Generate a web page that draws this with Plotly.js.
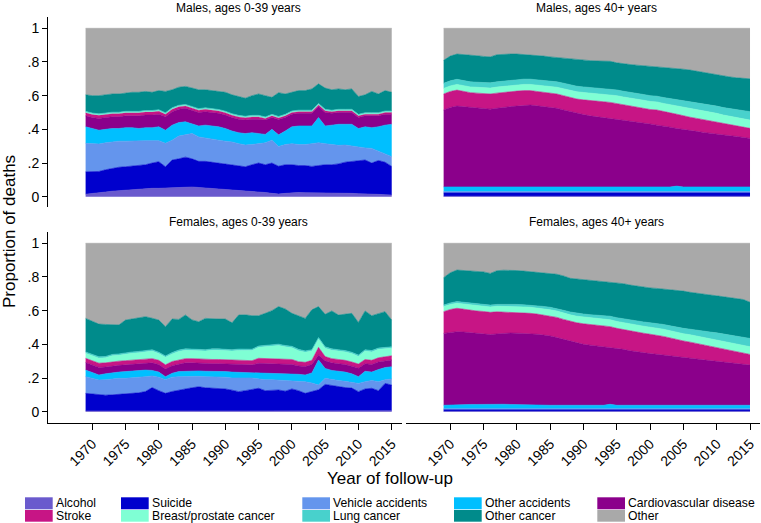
<!DOCTYPE html>
<html>
<head>
<meta charset="utf-8">
<script src="https://cdn.plot.ly/plotly-3.0.1.min.js"></script>
<style>html,body{margin:0;padding:0;background:#fff;}#chart{width:761px;height:523px;}</style>
</head>
<body>
<div id="chart"></div>
<script>
// ---------------- DATA ----------------
const years = [1969,1970,1971,1972,1973,1974,1975,1976,1977,1978,1979,1980,1981,1982,1983,1984,1985,1986,1987,1988,1989,1990,1991,1992,1993,1994,1995,1996,1997,1998,1999,2000,2001,2002,2003,2004,2005,2006,2007,2008,2009,2010,2011,2012,2013,2014,2015];
const causes = ['Alcohol','Suicide','Vehicle accidents','Other accidents','Cardiovascular disease','Stroke','Breast/prostate cancer','Lung cancer','Other cancer','Other'];
const panelTitles = ['Males, ages 0-39 years','Males, ages 40+ years','Females, ages 0-39 years','Females, ages 40+ years'];
const yTickVals = [0,0.2,0.4,0.6,0.8,1];
const yTickText = ['0','.2','.4','.6','.8','1'];
const xTickVals = [1970,1975,1980,1985,1990,1995,2000,2005,2010,2015];

// Males, ages 0-39
const m0_alcohol = [.015,.018,.022,.028,.033,.036,.04,.042,.045,.048,.05,.05,.052,.055,.058,.06,.058,.055,.052,.05,.048,.045,.042,.04,.035,.033,.03,.025,.02,.016,.02,.024,.025,.024,.024,.022,.022,.02,.02,.02,.02,.018,.018,.016,.014,.012,.01];
const m0_suicide = [.133,.13,.128,.132,.135,.139,.138,.14,.14,.142,.15,.158,.126,.163,.167,.175,.167,.155,.158,.155,.152,.15,.148,.145,.143,.157,.17,.165,.18,.164,.17,.166,.16,.161,.156,.163,.168,.17,.175,.185,.19,.197,.2,.184,.201,.193,.17];
const m0_vehicle = [.169,.167,.163,.16,.159,.155,.152,.15,.148,.143,.133,.125,.139,.117,.135,.135,.151,.145,.14,.14,.136,.135,.135,.13,.129,.12,.115,.13,.136,.117,.12,.125,.125,.125,.135,.135,.125,.12,.11,.102,.09,.08,.072,.087,.055,.05,.058];
const m0_otherAcc = [.098,.09,.082,.08,.078,.075,.08,.078,.072,.077,.077,.082,.078,.09,.08,.075,.055,.065,.075,.075,.079,.075,.065,.065,.068,.07,.06,.05,.064,.068,.08,.10,.11,.11,.105,.15,.105,.115,.125,.123,.13,.11,.125,.123,.145,.17,.192];
const m0_cvd = [.065,.065,.07,.07,.07,.07,.07,.07,.075,.075,.075,.075,.08,.08,.08,.08,.08,.08,.08,.08,.08,.08,.08,.08,.08,.08,.085,.085,.07,.09,.08,.075,.075,.075,.075,.065,.08,.07,.07,.07,.07,.065,.065,.07,.065,.065,.06];
const m0_stroke = [.018,.018,.018,.018,.018,.018,.018,.018,.018,.018,.018,.018,.014,.014,.014,.014,.014,.014,.014,.014,.014,.014,.014,.014,.014,.014,.014,.01,.01,.01,.01,.01,.01,.01,.01,.01,.01,.01,.01,.01,.01,.01,.01,.01,.01,.01,.01];
const m0_breastProstate = [.004,.004,.004,.004,.004,.004,.004,.004,.004,.004,.004,.004,.004,.004,.004,.004,.004,.004,.004,.004,.004,.004,.004,.004,.004,.004,.004,.004,.004,.004,.004,.004,.004,.004,.004,.004,.004,.004,.004,.004,.004,.004,.004,.004,.004,.004,.004];
const m0_lung = [.005,.005,.005,.005,.005,.005,.005,.005,.005,.005,.005,.005,.005,.005,.005,.005,.005,.005,.005,.005,.005,.005,.005,.005,.005,.005,.005,.005,.005,.005,.005,.005,.005,.005,.005,.005,.005,.005,.005,.005,.005,.005,.005,.005,.005,.005,.005];
const m0_otherCancer = [.098,.103,.108,.108,.108,.108,.108,.113,.113,.113,.108,.113,.127,.107,.107,.107,.112,.112,.107,.107,.107,.112,.112,.112,.107,.117,.127,.126,.101,.14,.121,.111,.116,.116,.126,.116,.126,.121,.121,.116,.121,.106,.106,.126,.111,.121,.111];
const m0_other = [.395,.40,.40,.395,.39,.39,.385,.38,.38,.375,.38,.37,.375,.365,.35,.345,.355,.365,.365,.37,.375,.38,.395,.405,.415,.40,.39,.40,.41,.38,.39,.38,.37,.37,.36,.33,.355,.365,.36,.365,.36,.405,.395,.375,.39,.37,.38];

// Males, ages 40+
const m40_alcohol = [.003,.003,.003,.003,.003,.003,.003,.003,.003,.003,.003,.003,.003,.003,.003,.003,.003,.003,.003,.003,.003,.003,.003,.003,.003,.003,.003,.003,.003,.003,.003,.003,.003,.003,.003,.003,.003,.003,.003,.003,.003,.003,.003,.003,.003,.003,.003];
const m40_suicide = [.02,.02,.02,.02,.02,.02,.02,.02,.02,.02,.02,.02,.02,.02,.02,.02,.02,.02,.02,.02,.02,.02,.02,.02,.02,.02,.02,.02,.02,.02,.02,.02,.02,.02,.02,.02,.02,.02,.02,.02,.02,.02,.02,.02,.02,.02,.02];
const m40_vehicle = [.008,.008,.008,.008,.008,.008,.008,.008,.008,.008,.008,.008,.008,.008,.008,.008,.008,.008,.008,.008,.008,.008,.008,.008,.008,.008,.008,.008,.008,.008,.008,.008,.008,.008,.008,.008,.008,.008,.008,.008,.008,.008,.008,.008,.008,.008,.008];
const m40_otherAcc = [.027,.027,.027,.027,.027,.027,.027,.027,.027,.027,.027,.027,.027,.027,.027,.027,.027,.027,.027,.027,.027,.027,.027,.027,.027,.027,.027,.027,.027,.027,.027,.027,.027,.027,.027,.032,.027,.027,.027,.027,.027,.027,.027,.027,.027,.027,.027];
const m40_cvd = [.457,.472,.48,.477,.47,.467,.464,.462,.467,.474,.477,.48,.484,.486,.482,.477,.47,.467,.457,.447,.437,.43,.422,.417,.412,.407,.402,.397,.392,.387,.382,.374,.367,.362,.355,.342,.34,.335,.33,.324,.318,.312,.308,.304,.30,.294,.288];
const m40_stroke = [.095,.095,.095,.09,.09,.09,.09,.09,.09,.088,.089,.089,.088,.086,.085,.085,.087,.085,.085,.085,.085,.087,.09,.091,.094,.095,.093,.09,.09,.087,.085,.086,.09,.085,.085,.085,.082,.079,.077,.076,.076,.075,.069,.066,.062,.061,.06];
const m40_breastProstate = [.033,.033,.034,.034,.034,.035,.035,.035,.036,.036,.036,.037,.037,.037,.038,.039,.04,.04,.041,.042,.043,.044,.045,.045,.046,.046,.047,.047,.047,.048,.048,.048,.048,.049,.049,.049,.05,.05,.05,.05,.05,.05,.05,.05,.05,.049,.049];
const m40_lung = [.03,.03,.03,.03,.03,.03,.03,.031,.031,.031,.031,.031,.031,.031,.032,.032,.032,.032,.033,.033,.033,.033,.033,.033,.033,.033,.034,.034,.034,.034,.034,.034,.034,.035,.036,.037,.038,.039,.04,.041,.042,.043,.044,.046,.047,.048,.05];
const m40_otherCancer = [.137,.147,.15,.156,.158,.157,.156,.154,.161,.159,.156,.152,.147,.145,.145,.144,.143,.144,.148,.152,.158,.158,.16,.162,.16,.165,.161,.162,.164,.167,.171,.175,.173,.179,.182,.186,.189,.191,.19,.189,.186,.184,.189,.187,.189,.193,.195];
const m40_other = [.19,.165,.153,.155,.16,.163,.167,.17,.157,.154,.153,.153,.155,.157,.16,.165,.17,.174,.178,.183,.186,.19,.192,.194,.197,.196,.205,.212,.215,.219,.222,.225,.23,.232,.235,.238,.243,.248,.255,.262,.27,.278,.282,.289,.294,.297,.30];

// Females, ages 0-39
const f0_alcohol = [.004,.004,.004,.004,.004,.004,.004,.008,.008,.008,.008,.008,.008,.008,.008,.008,.008,.006,.006,.006,.006,.006,.006,.006,.006,.006,.006,.005,.005,.005,.005,.005,.005,.005,.005,.005,.005,.005,.005,.005,.005,.005,.005,.005,.005,.005,.005];
const f0_suicide = [.105,.10,.095,.094,.096,.099,.101,.10,.104,.112,.135,.117,.101,.112,.121,.127,.134,.142,.136,.134,.133,.129,.122,.113,.119,.124,.133,.12,.123,.124,.117,.13,.12,.104,.115,.125,.157,.15,.143,.138,.135,.114,.13,.134,.12,.163,.153];
const f0_vehicle = [.099,.094,.089,.092,.095,.095,.093,.092,.093,.088,.069,.08,.081,.085,.079,.075,.07,.062,.066,.068,.069,.07,.072,.079,.075,.07,.056,.065,.062,.059,.063,.05,.057,.069,.05,.028,.036,.035,.037,.037,.035,.049,.043,.046,.053,.022,.036];
const f0_otherAcc = [.039,.034,.03,.035,.037,.037,.04,.042,.04,.039,.033,.03,.018,.023,.03,.03,.028,.032,.032,.032,.032,.033,.035,.036,.032,.033,.037,.04,.04,.04,.04,.04,.04,.04,.06,.149,.059,.055,.055,.055,.05,.04,.062,.05,.072,.072,.073];
const f0_cvd = [.045,.045,.045,.04,.04,.04,.04,.04,.04,.04,.045,.045,.045,.045,.045,.05,.05,.045,.045,.045,.045,.045,.045,.045,.045,.045,.055,.055,.055,.055,.055,.055,.05,.05,.05,.03,.045,.045,.045,.045,.045,.05,.045,.045,.045,.04,.04];
const f0_stroke = [.025,.025,.025,.025,.025,.025,.025,.025,.025,.025,.025,.025,.025,.025,.025,.025,.025,.025,.025,.025,.025,.025,.025,.025,.025,.025,.03,.03,.03,.03,.03,.03,.025,.025,.025,.045,.025,.025,.025,.025,.025,.025,.025,.025,.025,.025,.025];
const f0_breastProstate = [.03,.03,.03,.03,.035,.035,.04,.04,.04,.045,.045,.04,.045,.045,.05,.05,.05,.05,.05,.055,.055,.055,.055,.06,.06,.06,.065,.07,.075,.08,.075,.07,.065,.06,.055,.05,.05,.05,.05,.05,.05,.045,.05,.05,.05,.045,.045];
const f0_lung = [.008,.008,.008,.008,.008,.008,.008,.008,.008,.008,.008,.008,.008,.008,.008,.008,.008,.008,.008,.008,.008,.008,.008,.008,.008,.008,.008,.008,.008,.008,.008,.008,.008,.008,.008,.008,.008,.008,.008,.008,.008,.008,.008,.008,.008,.008,.008];
const f0_otherCancer = [.199,.195,.194,.19,.175,.172,.193,.195,.20,.199,.187,.191,.174,.199,.182,.201,.172,.164,.186,.177,.177,.179,.16,.202,.205,.199,.18,.191,.202,.223,.217,.196,.20,.193,.237,.184,.193,.225,.206,.217,.231,.194,.23,.207,.202,.214,.159];
const f0_other = [.446,.465,.48,.482,.485,.485,.456,.45,.442,.436,.445,.456,.495,.45,.452,.426,.455,.466,.446,.45,.45,.45,.472,.426,.425,.43,.43,.416,.40,.376,.39,.416,.43,.446,.395,.376,.422,.402,.426,.42,.416,.47,.402,.43,.42,.406,.456];

// Females, ages 40+
const f40_alcohol = [.002,.002,.002,.002,.002,.002,.002,.002,.002,.002,.002,.002,.002,.002,.002,.002,.002,.002,.002,.002,.002,.002,.002,.002,.002,.002,.002,.002,.002,.002,.002,.002,.002,.002,.002,.002,.002,.002,.002,.002,.002,.002,.002,.002,.002,.002,.002];
const f40_suicide = [.01,.01,.01,.01,.01,.01,.01,.01,.01,.01,.01,.01,.01,.01,.01,.01,.01,.01,.01,.01,.01,.01,.01,.01,.01,.01,.01,.01,.01,.01,.01,.01,.01,.01,.01,.01,.01,.01,.01,.01,.01,.01,.01,.01,.01,.01,.01];
const f40_vehicle = [.006,.006,.006,.006,.006,.006,.006,.006,.006,.006,.006,.006,.006,.006,.006,.006,.006,.006,.006,.006,.006,.006,.006,.006,.006,.006,.006,.006,.006,.006,.006,.006,.006,.006,.006,.006,.006,.006,.006,.006,.006,.006,.006,.006,.006,.006,.006];
const f40_otherAcc = [.02,.022,.023,.024,.025,.025,.026,.026,.027,.026,.025,.024,.02,.02,.02,.02,.02,.02,.02,.02,.02,.02,.02,.02,.02,.026,.02,.02,.02,.02,.02,.02,.02,.02,.02,.022,.02,.02,.02,.02,.02,.02,.02,.02,.02,.02,.02];
const f40_cvd = [.427,.432,.434,.431,.427,.425,.418,.414,.417,.421,.424,.424,.427,.424,.422,.417,.412,.402,.392,.38,.37,.362,.357,.352,.349,.339,.339,.332,.324,.317,.312,.307,.303,.299,.295,.288,.285,.28,.275,.27,.266,.262,.257,.252,.249,.245,.239];
const f40_stroke = [.129,.135,.139,.135,.133,.13,.133,.132,.131,.127,.123,.124,.122,.122,.12,.119,.118,.12,.118,.118,.12,.122,.122,.123,.121,.122,.118,.117,.117,.117,.116,.115,.114,.11,.105,.10,.097,.095,.092,.092,.088,.084,.081,.078,.073,.067,.063];
const f40_breastProstate = [.03,.03,.03,.031,.031,.031,.032,.032,.033,.034,.034,.035,.035,.036,.036,.037,.037,.038,.038,.039,.039,.04,.04,.04,.041,.041,.041,.041,.042,.042,.042,.042,.042,.043,.043,.043,.043,.044,.044,.044,.044,.045,.045,.045,.045,.046,.046];
const f40_lung = [.009,.009,.01,.01,.01,.01,.011,.011,.011,.012,.012,.012,.013,.013,.014,.014,.015,.015,.016,.017,.017,.018,.019,.02,.02,.021,.022,.023,.024,.025,.025,.026,.027,.028,.029,.03,.032,.033,.034,.036,.037,.039,.04,.042,.044,.046,.049];
const f40_otherCancer = [.163,.179,.187,.189,.192,.196,.192,.188,.20,.202,.205,.201,.20,.198,.198,.20,.20,.203,.204,.20,.204,.204,.204,.204,.206,.205,.209,.209,.207,.206,.207,.207,.208,.21,.215,.221,.221,.219,.222,.22,.22,.22,.222,.222,.223,.224,.215];
const f40_other = [.204,.175,.159,.162,.164,.165,.17,.179,.163,.16,.159,.162,.165,.169,.172,.175,.18,.184,.194,.208,.212,.216,.22,.223,.225,.228,.233,.24,.248,.255,.26,.265,.268,.272,.275,.278,.284,.291,.295,.30,.307,.312,.317,.323,.328,.334,.35];

// ---------------- STYLE ----------------
const colors = ['#6A5ACD','#0000CD','#6495ED','#00BFFF','#8B008B','#C71585','#7FFFD4','#48D1CC','#008B8B','#A9A9A9'];
const W = 761, H = 523;
const px = v => v / W;
const py = v => 1 - v / H;

const panels = [
  {xa:'x',  ya:'y',  series:[m0_alcohol,m0_suicide,m0_vehicle,m0_otherAcc,m0_cvd,m0_stroke,m0_breastProstate,m0_lung,m0_otherCancer,m0_other]},
  {xa:'x2', ya:'y2', series:[m40_alcohol,m40_suicide,m40_vehicle,m40_otherAcc,m40_cvd,m40_stroke,m40_breastProstate,m40_lung,m40_otherCancer,m40_other]},
  {xa:'x3', ya:'y3', series:[f0_alcohol,f0_suicide,f0_vehicle,f0_otherAcc,f0_cvd,f0_stroke,f0_breastProstate,f0_lung,f0_otherCancer,f0_other]},
  {xa:'x4', ya:'y4', series:[f40_alcohol,f40_suicide,f40_vehicle,f40_otherAcc,f40_cvd,f40_stroke,f40_breastProstate,f40_lung,f40_otherCancer,f40_other]}
];

const traces = [];
panels.forEach((p, pi) => {
  p.series.forEach((vals, i) => {
    const t = {
      type:'scatter', x: years, y: vals, name: causes[i],
      xaxis: p.xa, yaxis: p.ya, stackgroup: 'g' + pi,
      mode:'lines', line:{width:0.6, color: colors[i]}, fillcolor: colors[i],
      showlegend:false, hoverinfo:'skip'
    };
    if (i === 0) t.groupnorm = 'fraction';
    traces.push(t);
  });
});

const xRange = [1963.35, 2016.5];
const xDomL = [px(48), px(401.7)];
const xDomR = [px(406), px(760)];
const yDomT = [py(207), py(17)];
const yDomB = [py(423.3), py(232)];

const yAxisVisible = (dom, rng, anchor) => ({
  domain: dom, range: rng, anchor: anchor,
  showline:true, linecolor:'#000', linewidth:1, mirror:false,
  ticks:'outside', ticklen:5, tickwidth:1, tickcolor:'#000',
  tickvals: yTickVals, ticktext: yTickText, tickfont:{size:14, color:'#000'},
  showgrid:false, zeroline:false, fixedrange:true
});
const xAxisVisible = (dom, anchor) => ({
  domain: dom, range: xRange, anchor: anchor,
  showline:true, linecolor:'#000', linewidth:1,
  ticks:'outside', ticklen:6, tickwidth:1, tickcolor:'#000',
  tickvals: xTickVals, tickangle:-45, tickfont:{size:14, color:'#000'},
  showgrid:false, zeroline:false, fixedrange:true
});
const hidden = (dom, rng, anchor) => ({
  domain: dom, range: rng, anchor: anchor, visible:false, showgrid:false, zeroline:false, fixedrange:true
});

const annotations = [];
const titlePos = [[238.5, 8],[596.7, 8],[238.5, 222],[596.7, 222]];
panelTitles.forEach((t, i) => {
  annotations.push({text:t, xref:'paper', yref:'paper', x:px(titlePos[i][0]), y:py(titlePos[i][1]),
    xanchor:'center', yanchor:'middle', showarrow:false, font:{size:12, color:'#000'}});
});
annotations.push({text:'Proportion of deaths', xref:'paper', yref:'paper', x:px(9), y:py(232),
  textangle:-90, xanchor:'center', yanchor:'middle', showarrow:false, font:{size:17, color:'#000'}});
annotations.push({text:'Year of follow-up', xref:'paper', yref:'paper', x:px(390), y:py(478),
  xanchor:'center', yanchor:'middle', showarrow:false, font:{size:17, color:'#000'}});

// legend (two rows, five columns)
const shapes = [];
const colSwatchX = [25, 121, 302.3, 454, 597.3];
const rowY = [[497.3, 509.3], [510, 521.7]];
const rowTextY = [503.3, 515.7];
causes.forEach((c, i) => {
  const row = Math.floor(i / 5), col = i % 5;
  const x0 = colSwatchX[col];
  shapes.push({type:'rect', xref:'paper', yref:'paper', x0:px(x0), x1:px(x0 + 27.7),
    y0:py(rowY[row][1]), y1:py(rowY[row][0]), fillcolor: colors[i], line:{width:0}});
  annotations.push({text:c, xref:'paper', yref:'paper', x:px(x0 + 29.5), y:py(rowTextY[row]),
    xanchor:'left', yanchor:'middle', showarrow:false, borderpad:0, font:{size:12.2, color:'#000'}});
});

const layout = {
  width: W, height: H, margin:{l:0, r:0, t:0, b:0},
  paper_bgcolor:'#fff', plot_bgcolor:'#fff',
  font:{family:'"Liberation Sans", Arial, Helvetica, sans-serif', color:'#000', size:13},
  showlegend:false,
  xaxis: hidden(xDomL, xRange, 'y'),
  yaxis: yAxisVisible(yDomT, [-0.061, 1.067], 'x'),
  xaxis2: hidden(xDomR, xRange, 'y2'),
  yaxis2: hidden(yDomT, [-0.061, 1.067], 'x2'),
  xaxis3: xAxisVisible(xDomL, 'y3'),
  yaxis3: yAxisVisible(yDomB, [-0.069, 1.067], 'x3'),
  xaxis4: xAxisVisible(xDomR, 'y4'),
  yaxis4: hidden(yDomB, [-0.069, 1.067], 'x4'),
  annotations: annotations,
  shapes: shapes
};

Plotly.newPlot('chart', traces, layout, {displayModeBar:false, staticPlot:true});
</script>
</body>
</html>
